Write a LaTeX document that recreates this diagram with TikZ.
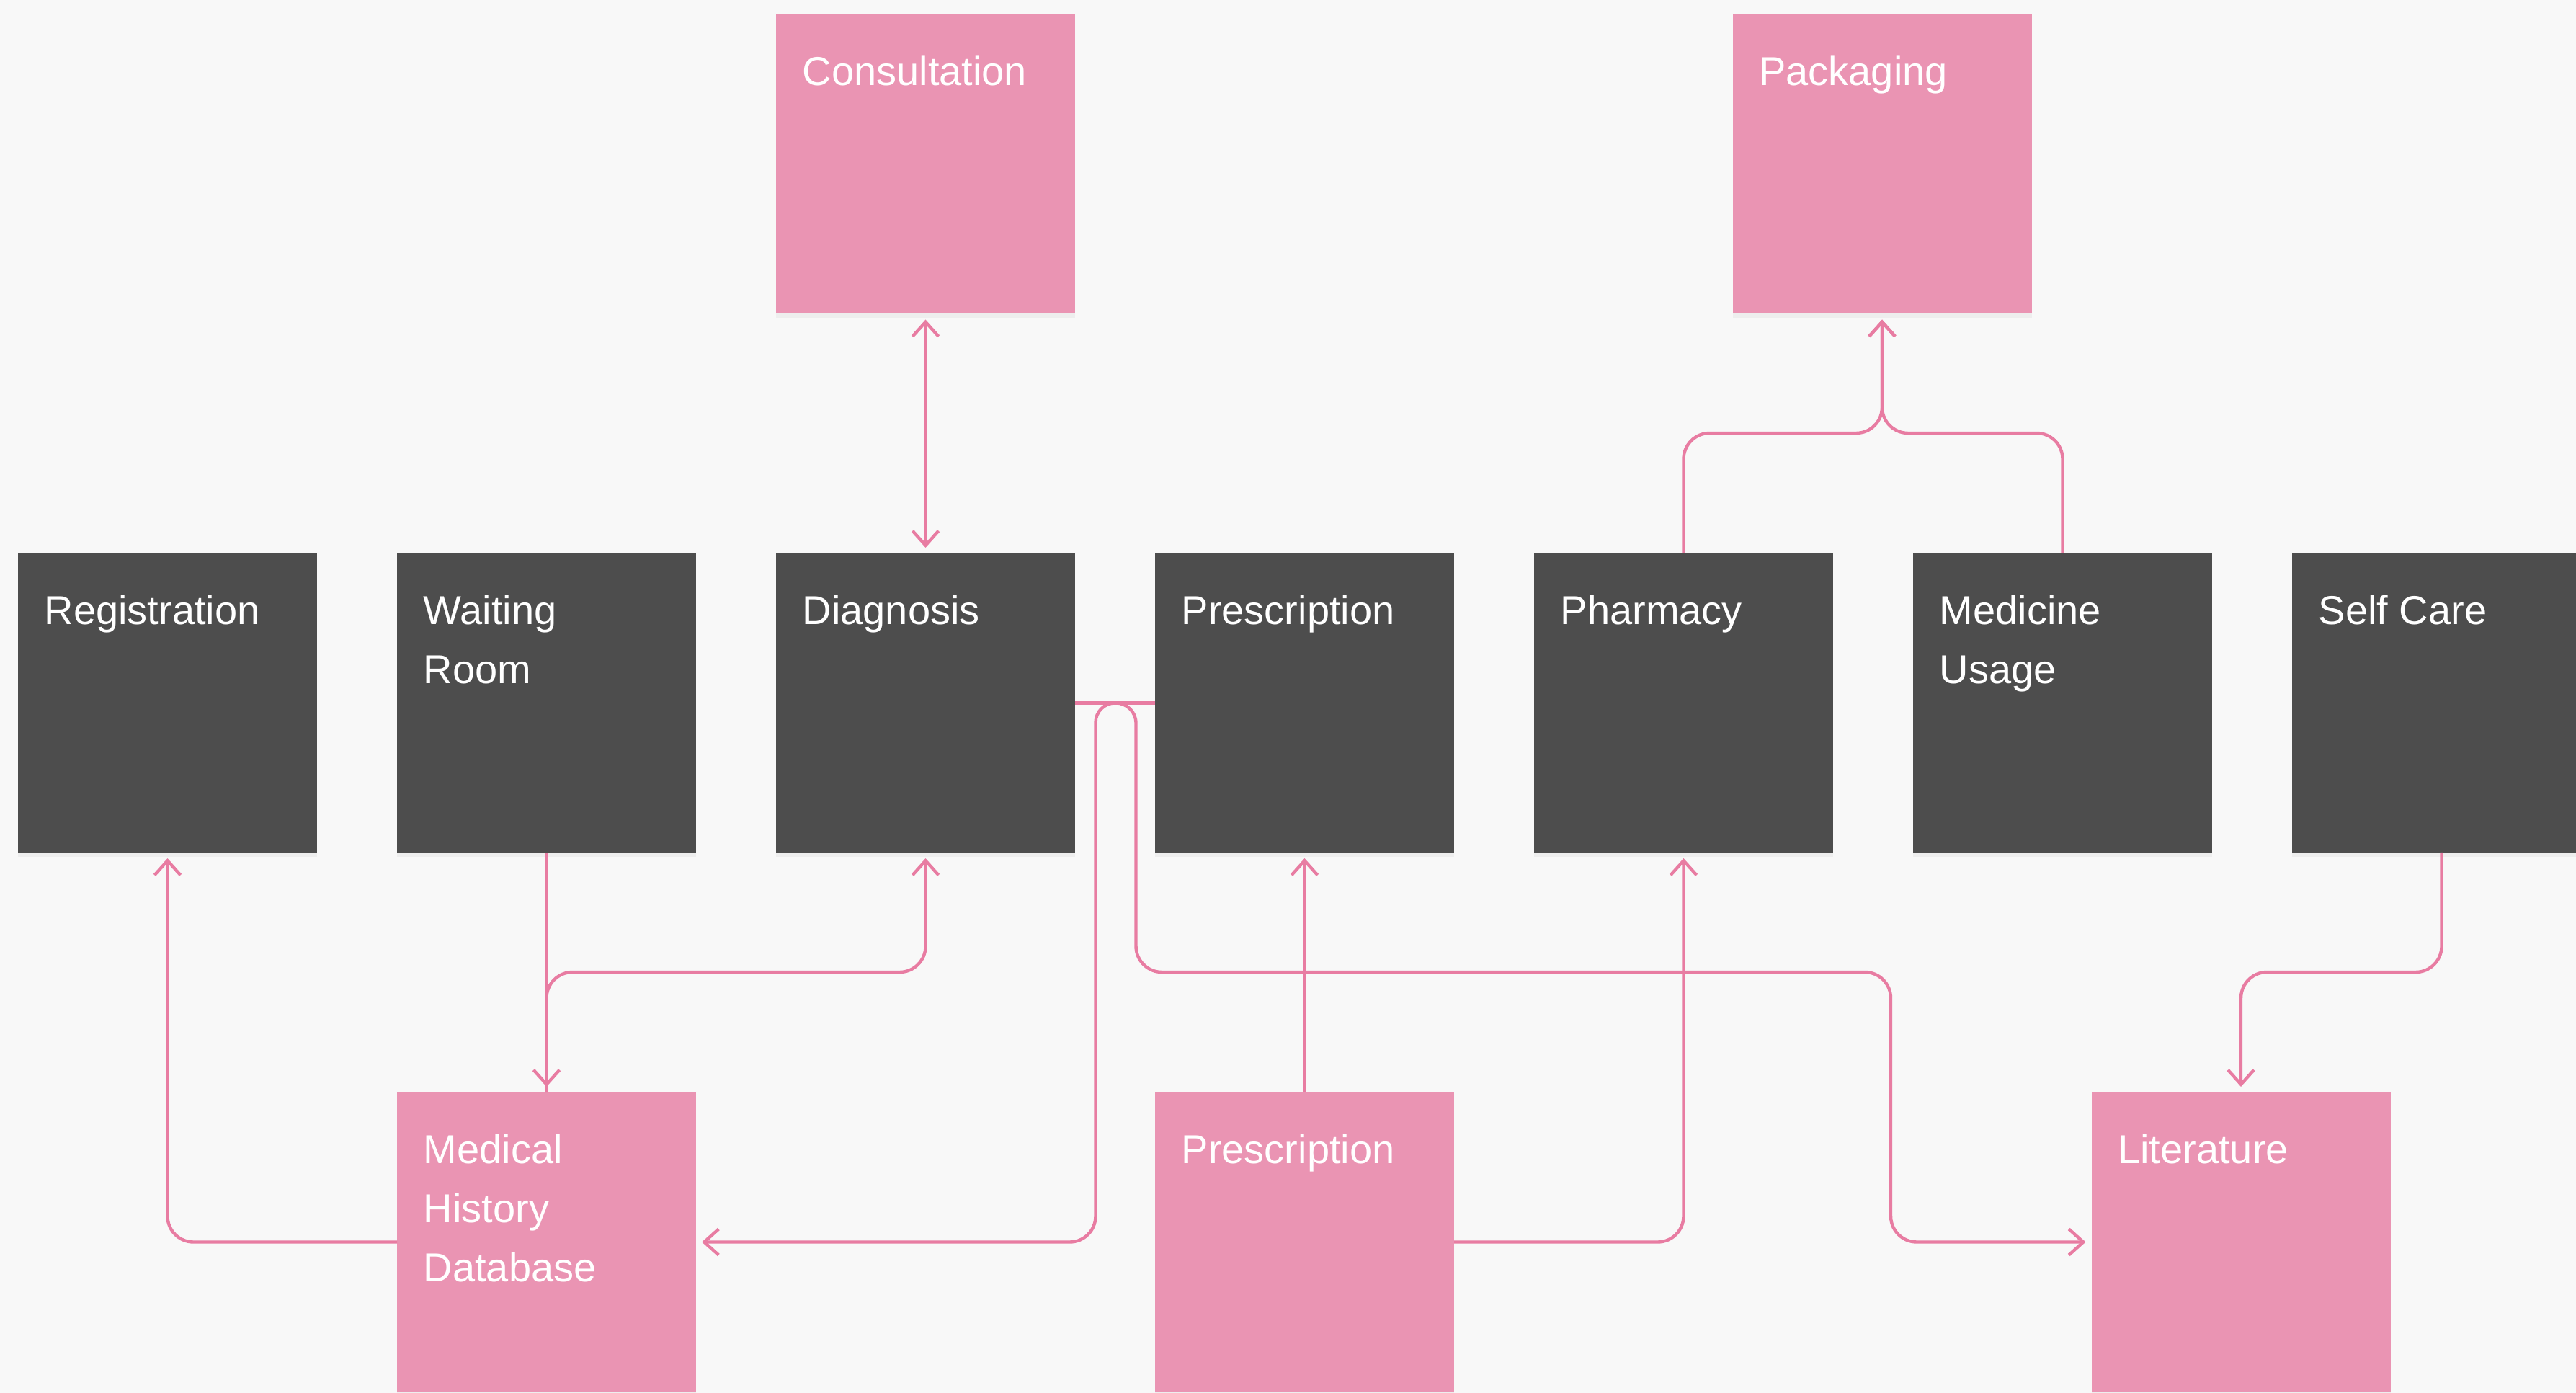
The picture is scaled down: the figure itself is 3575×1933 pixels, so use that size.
\documentclass[tikz,border=0pt]{standalone}
\usepackage{fontspec}
\setmainfont{Liberation Sans}
\usetikzlibrary{arrows.meta,shadows,calc}
\definecolor{bgc}{HTML}{F8F8F8}
\definecolor{darkbox}{HTML}{4D4D4D}
\definecolor{pinkbox}{HTML}{EA94B3}
\definecolor{linkc}{HTML}{E87CA2}
\begin{document}
\begin{tikzpicture}[x=0.25pt,y=-0.25pt,
  box/.style={minimum width=103.75pt, minimum height=103.75pt, inner sep=0pt, outer sep=0pt,
    drop shadow={shadow xshift=0pt, shadow yshift=-1.5pt, opacity=0.08}},
  darkb/.style={box, fill=darkbox},
  pinkb/.style={box, fill=pinkbox},
  lbl/.style={anchor=north west, inner sep=0pt, text=white, align=left,
    font=\fontsize{14}{20.5}\selectfont},
  conn/.style={draw=linkc, line width=1.1pt, rounded corners=9pt},
  tip/.style={-{Straight Barb[length=5pt,width=9pt]}, shorten >=2pt},
  tips/.style={{Straight Barb[length=5pt,width=9pt]}-{Straight Barb[length=5pt,width=9pt]}, shorten >=2pt, shorten <=2pt}
]
\fill[bgc] (0,0) rectangle (3575,1933);
\useasboundingbox (0,0) rectangle (3575,1933);

% middle row
\node[darkb] (reg)  at (232.5,975.5) {};
\node[darkb] (wait) at (758.5,975.5) {};
\node[darkb] (diag) at (1284.5,975.5) {};
\node[darkb] (pres) at (1810.5,975.5) {};
\node[darkb] (phar) at (2336.5,975.5) {};
\node[darkb] (medu) at (2862.5,975.5) {};
\node[darkb] (self) at (3388.5,975.5) {};
% top row
\node[pinkb] (cons) at (1284.5,228) {};
\node[pinkb] (pack) at (2612,228) {};
% bottom row
\node[pinkb] (mhd)   at (758.5,1723.5) {};
\node[pinkb] (presb) at (1810.5,1723.5) {};
\node[pinkb] (lit)   at (3110,1723.5) {};

\coordinate (midT) at (0,601);
\coordinate (midL) at (0,1349);
\coordinate (J) at ($(diag.east)!0.5!(pres.west)$);
\coordinate (jl) at ($(J)+(-27,0)$);
\coordinate (jr) at ($(J)+(29,0)$);
\coordinate (rv) at (2624,1349);

% connectors
\draw[conn,tips] (cons.south) -- (diag.north);
\draw[conn,tip] (phar.north) -- (phar.north |- midT) -- (pack.south |- midT) -- (pack.south);
\draw[conn,tip] (medu.north) -- (medu.north |- midT) -- (pack.south |- midT) -- (pack.south);
\draw[conn,tip] (mhd.west) -| (reg.south);
\draw[conn,tip] (wait.south) -- (mhd.north);
\draw[conn,tip] (mhd.north) -- (mhd.north |- midL) -| (diag.south);
\draw[conn,tip] (presb.north) -- (pres.south);
\draw[conn,tip] (presb.east) -| (phar.south);
\draw[conn] (diag.east) -- (pres.west);
\draw[conn,tip] (J) [rounded corners=6.75pt] -- (jl) [rounded corners=9pt] -- (jl |- mhd.east) -- (mhd.east);
\draw[conn,tip] (J) [rounded corners=7pt] -- (jr) [rounded corners=9pt] -- (jr |- midL) -- (rv) -- (rv |- lit.west) -- (lit.west);
\draw[conn,tip] (self.south) -- (self.south |- midL) -| (lit.north);

% labels
\node[lbl] (treg)  at ($(reg.north west)+(36,57)$)  {\rule{0pt}{10pt}Registration};
\node[lbl] (twait) at ($(wait.north west)+(36,57)$) {\rule{0pt}{10pt}Waiting\\Room};
\node[lbl] (tdiag) at ($(diag.north west)+(36,57)$) {\rule{0pt}{10pt}Diagnosis};
\node[lbl] (tpres) at ($(pres.north west)+(36,57)$) {\rule{0pt}{10pt}Prescription};
\node[lbl] (tphar) at ($(phar.north west)+(36,57)$) {\rule{0pt}{10pt}Pharmacy};
\node[lbl] (tmedu) at ($(medu.north west)+(36,57)$) {\rule{0pt}{10pt}Medicine\\Usage};
\node[lbl] (tself) at ($(self.north west)+(36,57)$) {\rule{0pt}{10pt}Self Care};
\node[lbl] (tcons) at ($(cons.north west)+(36,57)$) {\rule{0pt}{10pt}Consultation};
\node[lbl] (tpack) at ($(pack.north west)+(36,57)$) {\rule{0pt}{10pt}Packaging};
\node[lbl] (tmhd)  at ($(mhd.north west)+(36,57)$)  {\rule{0pt}{10pt}Medical\\History\\Database};
\node[lbl] (tpresb) at ($(presb.north west)+(36,57)$) {\rule{0pt}{10pt}Prescription};
\node[lbl] (tlit)  at ($(lit.north west)+(36,57)$)  {\rule{0pt}{10pt}Literature};
\end{tikzpicture}
\end{document}
